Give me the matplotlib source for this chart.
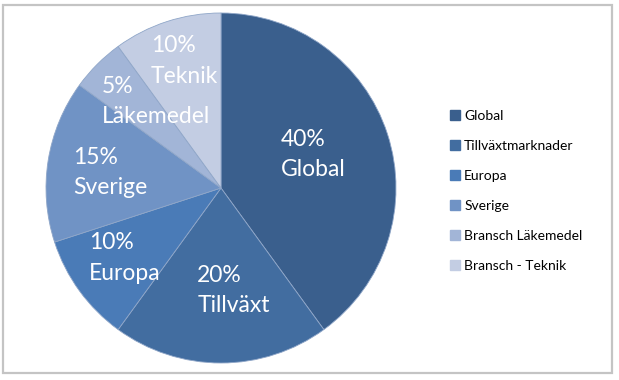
import numpy as np
import matplotlib.pyplot as plt
from matplotlib.patches import Rectangle
from matplotlib.lines import Line2D

plt.rcParams['font.family'] = ['Lato', 'DejaVu Sans']

# data
categories = ["Global", "Tillväxtmarknader", "Europa", "Sverige",
              "Bransch Läkemedel", "Bransch - Teknik"]
short_labels = ["Global", "Tillväxt", "Europa", "Sverige", "Läkemedel", "Teknik"]
shares = [40, 20, 10, 15, 5, 10]
colors = ["#3A5F8D", "#426DA0", "#4A7BB7", "#7093C5", "#A2B5D7", "#C3CDE3"]

# label placement (radius, angle offset in degrees)
label_r = [0.56, 0.59, 0.68, 0.64, 0.62, 0.755]
label_dtheta = [2, 7, 0, 1, -8, -2]

W, H = 619, 380
fig = plt.figure(figsize=(W / 100, H / 100), dpi=100)

# gray frame
fig.patches.append(Rectangle((3 / W, 1 - 373 / H), 609 / W, 368 / H,
                             transform=fig.transFigure, fill=False,
                             edgecolor="#C4C4C4", linewidth=1.6))

cx, cy, r = 221, 188, 175
ax = fig.add_axes([(cx - r) / W, (H - cy - r) / H, 2 * r / W, 2 * r / H])
wedges, _ = ax.pie(shares, colors=colors, startangle=90, counterclock=False,
                   radius=1.0, wedgeprops=dict(linewidth=0.6, edgecolor="#8FA6C8"))
ax.set_xlim(-1, 1)
ax.set_ylim(-1, 1)
ax.set_aspect("equal")
ax.axis("off")

# two-line labels: measure the block, then draw each line left-aligned
renderer = fig.canvas.get_renderer()
txt_kw = dict(color="white", fontsize=16.5)
for w, name, val, lr, dt in zip(wedges, short_labels, shares, label_r, label_dtheta):
    mid = np.radians((w.theta1 + w.theta2) / 2 + dt)
    block = ax.text(lr * np.cos(mid), lr * np.sin(mid), f"{val}%\n{name}",
                    ha="center", va="center", linespacing=1.55, **txt_kw)
    bb = block.get_window_extent(renderer).transformed(ax.transData.inverted())
    block.remove()
    ax.text(bb.x0, bb.y1, f"{val}%", ha="left", va="top", **txt_kw)
    ax.text(bb.x0, bb.y0, name, ha="left", va="bottom", **txt_kw)

handles = [Line2D([], [], marker="s", linestyle="none", markersize=7,
                  markerfacecolor=c, markeredgecolor=c) for c in colors]
fig.legend(handles, categories, loc="upper left",
           bbox_to_anchor=(442 / W, 1 - 103 / H), frameon=False,
           fontsize=10, labelspacing=1.3, handletextpad=0.2,
           handlelength=0.9, borderpad=0)

fig.savefig("out.png", dpi=100)
